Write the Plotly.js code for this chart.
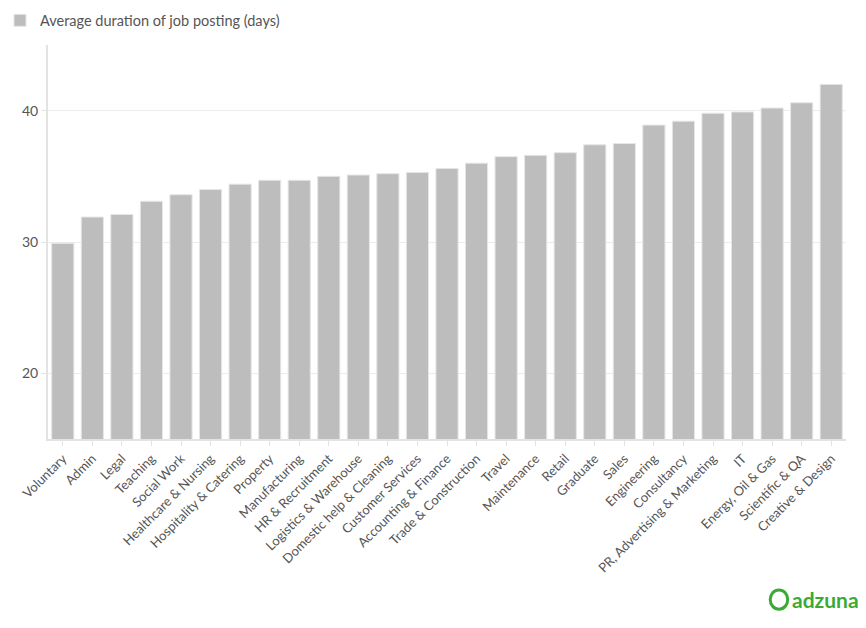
<!DOCTYPE html>
<html>
<head>
<meta charset="utf-8">
<script src="https://cdn.plot.ly/plotly-3.0.1.min.js"></script>
<style>html,body{margin:0;padding:0;background:#fff}#chart{width:866px;height:628px}</style>
</head>
<body>
<div id="chart"></div>
<script>
const categories = ["Voluntary","Admin","Legal","Teaching","Social Work","Healthcare & Nursing","Hospitality & Catering","Property","Manufacturing","HR & Recruitment","Logistics & Warehouse","Domestic help & Cleaning","Customer Services","Accounting & Finance","Trade & Construction","Travel","Maintenance","Retail","Graduate","Sales","Engineering","Consultancy","PR, Advertising & Marketing","IT","Energy, Oil & Gas","Scientific & QA","Creative & Design"];
const durationDays = [29.9,31.9,32.1,33.1,33.6,34.0,34.4,34.7,34.7,35.0,35.1,35.2,35.3,35.6,36.0,36.5,36.6,36.8,37.4,37.5,38.9,39.2,39.8,39.9,40.2,40.6,42.0];
const seriesName = "Average duration of job posting (days)";
const yTicks = [20,30,40];

const font = "Lato, 'Open Sans', sans-serif";
const trace = {
  type: "bar",
  x: categories,
  y: durationDays,
  name: seriesName,
  marker: {color: "#bdbdbd", line: {color: "#e6e6e6", width: 1}},
  showlegend: true,
  hoverinfo: "x+y"
};
const layout = {
  width: 866, height: 628,
  margin: {l: 48, r: 20, t: 45, b: 189, autoexpand: false},
  paper_bgcolor: "#fff", plot_bgcolor: "#fff",
  font: {family: font, size: 13, color: "#555"},
  bargap: 0.25,
  showlegend: true,
  legend: {orientation: "h", xref: "container", yref: "container", x: -0.012, xanchor: "left", y: 0.993, yanchor: "top",
           font: {family: font, size: 14.5, color: "#555"}, itemwidth: 30, traceorder: "normal"},
  xaxis: {
    type: "category", tickangle: -45, ticks: "outside", ticklen: 5, tickcolor: "#e3e3e3",
    showline: true, linecolor: "#e3e3e3", linewidth: 2, showgrid: false,
    tickfont: {family: font, size: 13, color: "#555"}, automargin: false
  },
  yaxis: {
    range: [15, 45], tickvals: yTicks, ticks: "outside", ticklen: 5, tickcolor: "#e3e3e3",
    showline: true, linecolor: "#e3e3e3", linewidth: 2, showgrid: true, gridcolor: "#ececec", gridwidth: 1,
    zeroline: false, tickfont: {family: font, size: 14, color: "#555"}, automargin: false
  },
  shapes: [
    {type: "circle", xref: "paper", yref: "paper", x0: 0.905, x1: 0.927, y0: -0.432, y1: -0.383,
     line: {color: "#3aaa35", width: 3}}
  ],
  annotations: [
    {xref: "paper", yref: "paper", x: 0.93, y: -0.408, xanchor: "left", yanchor: "middle",
     text: "<b>adzuna</b>", showarrow: false, font: {family: font, size: 21, color: "#3aaa35"}}
  ]
};
Plotly.newPlot("chart", [trace], layout, {displayModeBar: false, responsive: false});
</script>
</body>
</html>
